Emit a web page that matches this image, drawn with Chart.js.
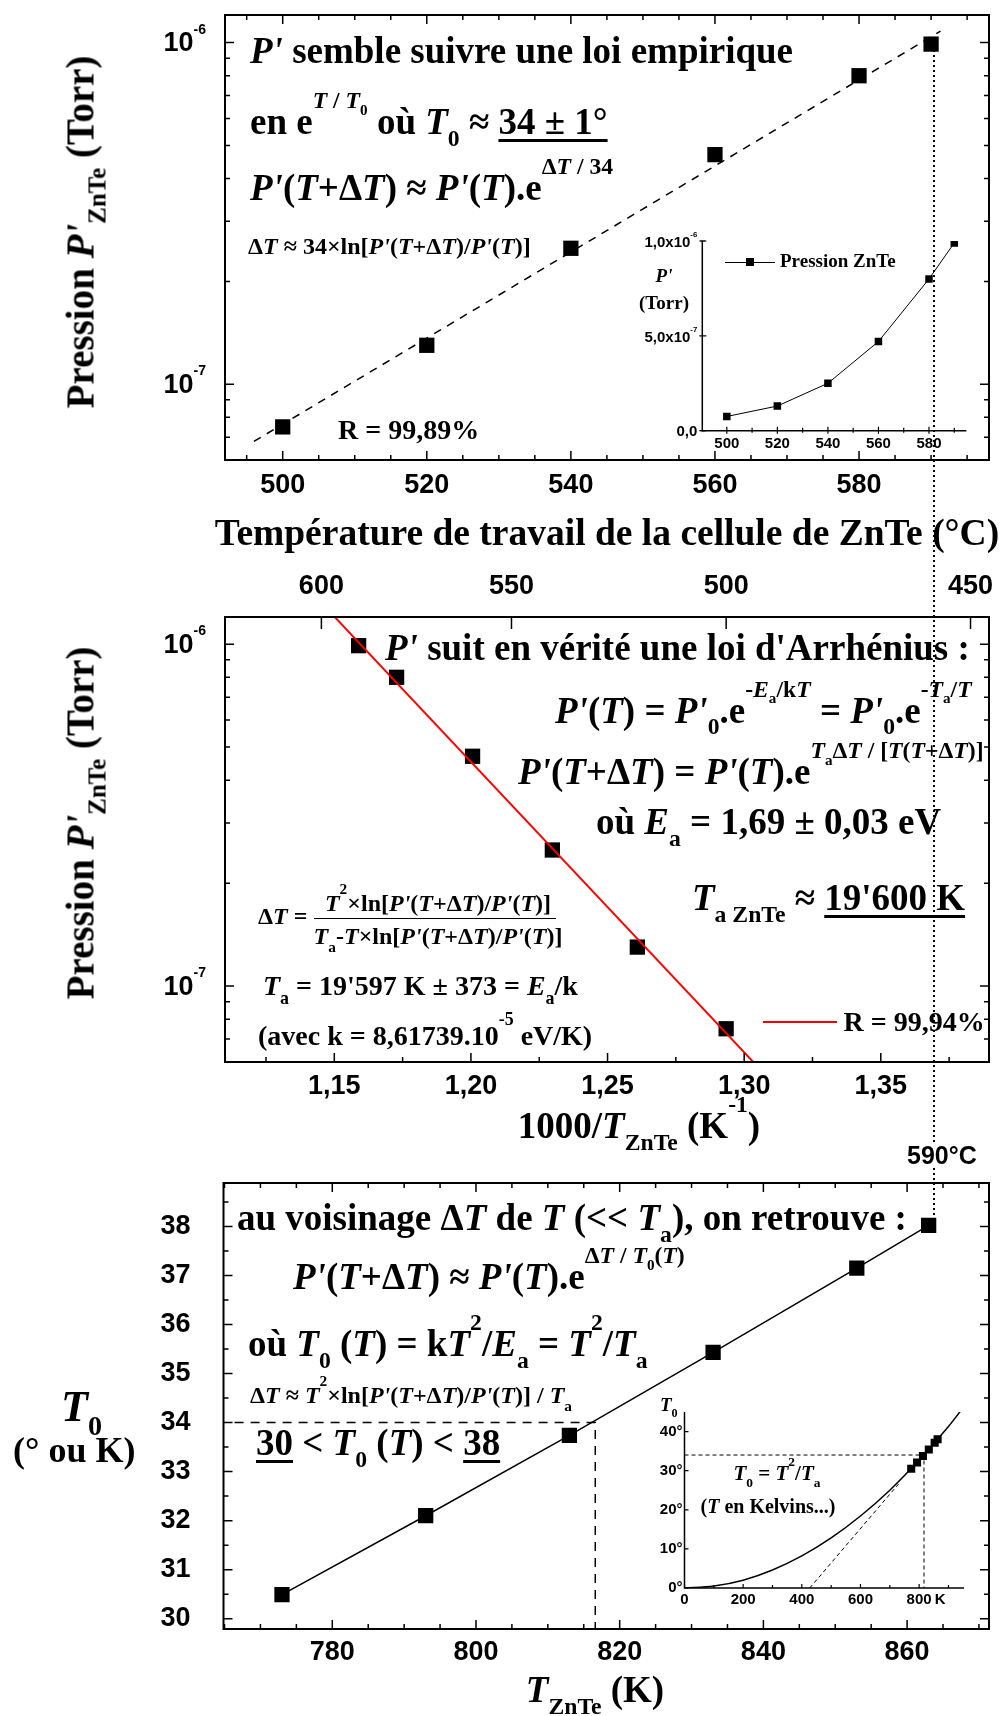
<!DOCTYPE html>
<html><head><meta charset="utf-8">
<script src="https://cdn.jsdelivr.net/npm/chart.js@4.4.1/dist/chart.umd.min.js"></script>
<style>
html,body{margin:0;padding:0;background:#fff;}
#page{position:relative;width:1008px;height:1716px;overflow:hidden;background:#fff;}
canvas{position:absolute;}
.lab{position:absolute;white-space:nowrap;line-height:1;font-family:'Liberation Serif','Times New Roman',serif;font-weight:bold;color:#000;z-index:5;}
.lab i{font-style:italic;}
.lab sup{font-size:0.64em;position:relative;top:-1.1em;vertical-align:baseline;line-height:0;}
.lab sub{font-size:0.64em;position:relative;top:0.5em;vertical-align:baseline;line-height:0;}
.lab sup sub{top:0.45em;}
.lab u{text-decoration:underline;text-decoration-thickness:3px;text-underline-offset:5px;}
.lab.sans{font-family:'Liberation Sans',Arial,sans-serif;}
.lab.sans sup{font-size:0.52em;top:-1.25em;}
.rule{position:absolute;z-index:4;}
</style></head>
<body><div id="page"></div>
<script>
// ---------------- data ----------------
const TEMP_C = [500, 520, 540, 560, 580, 590];
const PRESSURE_TORR = [7.5e-8, 1.30e-7, 2.5e-7, 4.7e-7, 8.0e-7, 9.9e-7];
const INV_T = [1.2934, 1.2609, 1.2298, 1.2006, 1.1728, 1.1589];
const TEMP_K = [773, 793, 813, 833, 853, 863];
const T0_VALUES = [30.49, 32.10, 33.74, 35.43, 37.15, 38.02];
const EMPIRIC_FIT_C = [496, 591.3];
const EMPIRIC_FIT_P = [6.8e-8, 1.08e-6];
const ARRHENIUS_FIT_X = [1.1502, 1.3033];
const ARRHENIUS_FIT_P = [1.20e-6, 6.0e-8];
const CURVE_T = [0, 100, 200, 300, 400, 500, 600, 700, 800, 900, 940];
const CURVE_T0 = [0, 0.5, 2.0, 4.6, 8.2, 12.8, 18.4, 25.0, 32.7, 41.3, 45.1];
const TANGENT_T = [427, 730];
const TANGENT_T0 = [0, 26.6];
const GUIDE_T0 = 34;
const GUIDE_T = 816.6;
const MARK_C = 590.4;
// tick labels
const TOP_X_TICKS = [500, 520, 540, 560, 580];
const LOG_Y_TICKS = [1e-7, 1e-6];
const LOG_Y_LABELS = ['10<sup>-7</sup>', '10<sup>-6</sup>'];
const MID_X_TICKS = [1.15, 1.20, 1.25, 1.30, 1.35];
const MID_TOP_C = [600, 550, 500, 450];
const BOT_X_TICKS = [780, 800, 820, 840, 860];
const BOT_Y_TICKS = [30, 31, 32, 33, 34, 35, 36, 37, 38];
const INSET1_X_TICKS = [500, 520, 540, 560, 580];
const INSET1_Y_TICKS = [0, 5e-7, 1e-6];
const INSET1_Y_LABELS = ['0,0', '5,0x10<sup>-7</sup>', '1,0x10<sup>-6</sup>'];
const INSET2_X_TICKS = [0, 200, 400, 600, 800, 872];
const INSET2_X_LABELS = ['0', '200', '400', '600', '800', 'K'];
const INSET2_Y_TICKS = [0, 10, 20, 30, 40];

// ---------------- helpers ----------------
const page = document.getElementById('page');
Chart.defaults.font.family = "'Liberation Sans', Arial, sans-serif";
Chart.defaults.font.weight = 'bold';
Chart.defaults.color = '#000';

function makeCanvas(left,top,w,h){const c=document.createElement('canvas');c.width=w;c.height=h;c.style.left=left+'px';c.style.top=top+'px';c.style.width=w+'px';c.style.height=h+'px';page.appendChild(c);return c;}
function fixW(w){return s=>{s.width=w;s.paddingTop=0;s.paddingBottom=0;};}
function fixH(h){return s=>{s.height=h;s.paddingLeft=0;s.paddingRight=0;};}
function setTicks(vals){return s=>{s.ticks=vals.map(v=>({value:v}));};}
function steps(a,b,st){const o=[];for(let i=0;a+i*st<=b+1e-9;i++)o.push(+(a+i*st).toFixed(6));return o;}
function logMinor(min,max){const o=[];for(let e=Math.floor(Math.log10(min));e<=Math.ceil(Math.log10(max));e++)for(let k=2;k<=9;k++){const v=k*Math.pow(10,e);if(v>min&&v<max)o.push(v);}return o;}
function pts(xs,ys){return xs.map((x,i)=>({x:x,y:ys[i]}));}

function frameTicks(cfg){
  return {id:'frameTicks',afterDraw(chart){
    const ctx=chart.ctx,a=chart.chartArea;
    ctx.save();ctx.strokeStyle='#000';ctx.lineWidth=cfg.frame;
    ctx.beginPath();
    if(cfg.box){ctx.rect(a.left,a.top,a.right-a.left,a.bottom-a.top);}
    else{ctx.moveTo(a.left,a.top);ctx.lineTo(a.left,a.bottom);ctx.lineTo(a.right,a.bottom);}
    ctx.stroke();
    ctx.lineWidth=cfg.tick;
    for(const t of cfg.ticks){
      const s=chart.scales[t.scale];ctx.beginPath();
      for(const v of t.values){
        if(v<s.min||v>s.max)continue;
        const p=s.getPixelForValue(v);const o=t.out||0;
        if(s.isHorizontal()){
          if(t.bottom){ctx.moveTo(p,a.bottom+o);ctx.lineTo(p,a.bottom-t.len);}
          if(t.top){ctx.moveTo(p,a.top-o);ctx.lineTo(p,a.top+t.len);}
        }else{
          if(t.left){ctx.moveTo(a.left-o,p);ctx.lineTo(a.left+t.len,p);}
          if(t.right){ctx.moveTo(a.right+o,p);ctx.lineTo(a.right-t.len,p);}
        }
      }
      ctx.stroke();
    }
    ctx.restore();
  }};
}
const baseOpts={responsive:false,devicePixelRatio:1,animation:false,events:[],plugins:{legend:{display:false},tooltip:{enabled:false}}};
const noGrid={display:false,drawTicks:false};
const F27={size:27,weight:'bold'};
const F15={size:15,weight:'bold'};

// ---------------- panel 1: empirical law ----------------
const c1=makeCanvas(0,0,1008,560);
const chart1=new Chart(c1,{type:'scatter',
  data:{datasets:[
    {data:pts(EMPIRIC_FIT_C,EMPIRIC_FIT_P),showLine:true,borderColor:'#000',borderWidth:1.5,borderDash:[8,7],pointRadius:0},
    {data:pts(TEMP_C,PRESSURE_TORR),showLine:false,pointStyle:'rect',pointRadius:10.8,pointBackgroundColor:'#000',pointBorderWidth:0}
  ]},
  options:Object.assign({},baseOpts,{layout:{padding:{left:0,top:15,right:19,bottom:0}},
    scales:{
      x:{type:'linear',min:491.99,max:598.04,grid:noGrid,border:{display:false},afterBuildTicks:setTicks(TOP_X_TICKS),afterFit:fixH(100),
         ticks:{font:F27,padding:9.5,autoSkip:false,maxRotation:0,callback:v=>String(v)}},
      y:{type:'logarithmic',min:6.07e-8,max:1.2046e-6,grid:noGrid,border:{display:false},afterBuildTicks:setTicks(LOG_Y_TICKS),afterFit:fixW(225),
         ticks:{display:false}}
    }}),
  plugins:[frameTicks({box:true,frame:2,tick:1.5,ticks:[
    {scale:'x',values:TOP_X_TICKS,len:9,bottom:true,top:true},
    {scale:'x',values:steps(495,595,5).filter(v=>TOP_X_TICKS.indexOf(v)<0),len:5,bottom:true,top:true},
    {scale:'y',values:LOG_Y_TICKS,len:9,left:true,right:true},
    {scale:'y',values:logMinor(6.07e-8,1.2046e-6),len:5,left:true,right:true}]})]
});

// inset of panel 1 (linear pressure)
const c1i=makeCanvas(600,225,390,235);
const chart1i=new Chart(c1i,{type:'scatter',
  data:{datasets:[
    {data:pts(TEMP_C,PRESSURE_TORR),showLine:true,borderColor:'#000',borderWidth:1,pointStyle:'rect',pointRadius:5.3,pointBackgroundColor:'#000',pointBorderWidth:0}
  ]},
  options:Object.assign({},baseOpts,{layout:{padding:{left:0,top:16,right:23.6,bottom:0}},
    scales:{
      x:{type:'linear',min:490.3,max:594.8,grid:noGrid,border:{display:false},afterBuildTicks:setTicks(INSET1_X_TICKS),afterFit:fixH(29.3),
         ticks:{font:F15,padding:4,autoSkip:false,maxRotation:0,callback:v=>String(v)}},
      y:{type:'linear',min:0,max:1e-6,grid:noGrid,border:{display:false},afterBuildTicks:setTicks(INSET1_Y_TICKS),afterFit:fixW(102.3),
         ticks:{display:false}}
    }}),
  plugins:[frameTicks({box:false,frame:1.5,tick:1.2,ticks:[
    {scale:'x',values:INSET1_X_TICKS,len:4,out:3,bottom:true},
    {scale:'x',values:steps(510,590,20),len:3,out:2,bottom:true},
    {scale:'y',values:INSET1_Y_TICKS,len:4,out:3,left:true},
    {scale:'y',values:steps(1e-7,9e-7,1e-7).filter(v=>Math.abs(v-5e-7)>1e-12),len:3,out:2,left:true}]})]
});

// ---------------- panel 2: Arrhenius ----------------
const c2=makeCanvas(0,560,1008,600);
const chart2=new Chart(c2,{type:'scatter',
  data:{datasets:[
    {data:pts(ARRHENIUS_FIT_X,ARRHENIUS_FIT_P),showLine:true,borderColor:'#ff0000',borderWidth:2,pointRadius:0},
    {data:pts(INV_T,PRESSURE_TORR),showLine:false,pointStyle:'rect',pointRadius:10.8,pointBackgroundColor:'#000',pointBorderWidth:0}
  ]},
  options:Object.assign({},baseOpts,{layout:{padding:{left:0,top:0,right:19,bottom:0}},
    scales:{
      x:{type:'linear',position:'bottom',min:1.11,max:1.3896,grid:noGrid,border:{display:false},afterBuildTicks:setTicks(MID_X_TICKS),afterFit:fixH(98),
         ticks:{font:F27,padding:8,autoSkip:false,maxRotation:0,callback:v=>v.toFixed(2).replace('.',',')}},
      x2:{type:'linear',position:'top',min:1.11,max:1.3896,grid:noGrid,border:{display:false},afterBuildTicks:setTicks(MID_TOP_C.map(c=>1000/(c+273.15))),afterFit:fixH(57),
         ticks:{font:F27,padding:14.5,autoSkip:false,maxRotation:0,callback:(v,i)=>String(MID_TOP_C[i])}},
      y:{type:'logarithmic',min:5.995e-8,max:1.2009e-6,grid:noGrid,border:{display:false},afterBuildTicks:setTicks(LOG_Y_TICKS),afterFit:fixW(225),
         ticks:{display:false}}
    }}),
  plugins:[frameTicks({box:true,frame:2,tick:1.5,ticks:[
    {scale:'x',values:MID_X_TICKS,len:9,bottom:true},
    {scale:'x',values:steps(1.125,1.375,0.05),len:5,bottom:true},
    {scale:'x2',values:MID_TOP_C.map(c=>1000/(c+273.15)),len:12,top:true},
    {scale:'y',values:LOG_Y_TICKS,len:9,left:true,right:true},
    {scale:'y',values:logMinor(5.995e-8,1.2009e-6),len:5,left:true,right:true}]})]
});

// ---------------- panel 3: T0(T) ----------------
const c3=makeCanvas(0,1160,1008,556);
const chart3=new Chart(c3,{type:'scatter',
  data:{datasets:[
    {data:pts(TEMP_K,T0_VALUES),showLine:true,borderColor:'#000',borderWidth:1.5,pointStyle:'rect',pointRadius:10.8,pointBackgroundColor:'#000',pointBorderWidth:0},
    {data:[{x:766.4,y:GUIDE_T0},{x:GUIDE_T,y:GUIDE_T0},{x:GUIDE_T,y:29.79}],showLine:true,borderColor:'#000',borderWidth:1.5,borderDash:[9,7],pointRadius:0}
  ]},
  options:Object.assign({},baseOpts,{layout:{padding:{left:0,top:23,right:19,bottom:0}},
    scales:{
      x:{type:'linear',min:764.86,max:871.4,grid:noGrid,border:{display:false},afterBuildTicks:setTicks(BOT_X_TICKS),afterFit:fixH(87),
         ticks:{font:F27,padding:7,autoSkip:false,maxRotation:0,callback:v=>String(v)}},
      y:{type:'linear',min:29.79,max:38.886,grid:noGrid,border:{display:false},afterBuildTicks:setTicks(BOT_Y_TICKS),afterFit:fixW(223.5),
         ticks:{font:F27,padding:33,autoSkip:false,callback:v=>String(v)}}
    }}),
  plugins:[frameTicks({box:true,frame:2,tick:1.5,ticks:[
    {scale:'x',values:BOT_X_TICKS,len:9,bottom:true,top:true},
    {scale:'x',values:steps(765,870,5).filter(v=>BOT_X_TICKS.indexOf(v)<0),len:5,bottom:true,top:true},
    {scale:'y',values:BOT_Y_TICKS,len:9,left:true,right:true},
    {scale:'y',values:steps(30.5,38.5,1),len:5,left:true,right:true}]})]
});

// inset of panel 3 (T0 = T^2/Ta)
const c3i=makeCanvas(620,1395,370,225);
const chart3i=new Chart(c3i,{type:'scatter',
  data:{datasets:[
    {data:pts(TEMP_K,T0_VALUES),showLine:false,pointStyle:'rect',pointRadius:5.7,pointBackgroundColor:'#000',pointBorderWidth:0},
    {data:pts(CURVE_T,CURVE_T0),showLine:true,borderColor:'#000',borderWidth:1.5,pointRadius:0,cubicInterpolationMode:'monotone'},
    {data:pts(TANGENT_T,TANGENT_T0),showLine:true,borderColor:'#000',borderWidth:1,borderDash:[4,3],pointRadius:0},
    {data:[{x:0,y:GUIDE_T0},{x:GUIDE_T,y:GUIDE_T0},{x:GUIDE_T,y:0}],showLine:true,borderColor:'#000',borderWidth:1,borderDash:[4,3],pointRadius:0}
  ]},
  options:Object.assign({},baseOpts,{layout:{padding:{left:0,top:17,right:26,bottom:0}},
    scales:{
      x:{type:'linear',min:0,max:953,grid:noGrid,border:{display:false},afterBuildTicks:setTicks(INSET2_X_TICKS),afterFit:fixH(32),
         ticks:{font:F15,padding:3,autoSkip:false,maxRotation:0,callback:(v,i)=>INSET2_X_LABELS[i]}},
      y:{type:'linear',min:0,max:45,grid:noGrid,border:{display:false},afterBuildTicks:setTicks(INSET2_Y_TICKS),afterFit:fixW(64.5),
         ticks:{font:F15,padding:2,autoSkip:false,callback:v=>v+'\u00B0'}}
    }}),
  plugins:[frameTicks({box:false,frame:1.5,tick:1.2,ticks:[
    {scale:'x',values:[0,200,400,600,800],len:4,bottom:true},
    {scale:'x',values:[100,300,500,700,900],len:3,bottom:true},
    {scale:'y',values:INSET2_Y_TICKS,len:4,left:true}]})]
});

// ---------------- text overlays ----------------
function lab(x,base,size,html,opt){
  opt=opt||{};
  const d=document.createElement('div');
  d.className='lab'+(opt.sans?' sans':'');
  d.style.fontSize=size+'px';
  d.innerHTML=html;
  const asc=opt.sans?0.8465:0.8375;
  d.style.left=x+'px';
  d.style.top=(base-asc*size)+'px';
  if(opt.center)d.style.transform='translateX(-50%)';
  if(opt.right)d.style.transform='translateX(-100%)';
  page.appendChild(d);return d;
}
function vlab(cx,cy,size,html){
  const d=document.createElement('div');
  d.className='lab';d.style.fontSize=size+'px';d.innerHTML=html;
  d.style.left=cx+'px';d.style.top=cy+'px';
  d.style.transform='translate(-50%,-50%) rotate(-90deg)';
  page.appendChild(d);return d;
}
function rule(x,y,w,h,bg){const d=document.createElement('div');d.className='rule';d.style.left=x+'px';d.style.top=y+'px';d.style.width=w+'px';d.style.height=h+'px';d.style.background=bg;page.appendChild(d);return d;}
// y tick labels with true superscripts, placed through the chart scales
function yTickLabels(chart,offX,offY,vals,labels,gap,size){
  const s=chart.scales.y,a=chart.chartArea;
  vals.forEach((v,i)=>{
    const y=offY+s.getPixelForValue(v);
    lab(offX+a.left-gap,y+0.358*size,size,labels[i],{sans:true,right:true});
  });
}
yTickLabels(chart1,0,0,LOG_Y_TICKS,LOG_Y_LABELS,19,27);
yTickLabels(chart2,0,560,LOG_Y_TICKS,LOG_Y_LABELS,19,27);
yTickLabels(chart1i,600,225,INSET1_Y_TICKS,INSET1_Y_LABELS,5,15);

const P='<i>P\'</i>';
const Ti='<i>T</i>';
// panel 1
lab(250,63,37,P+' semble suivre une loi empirique');
lab(250,134,37,'en e<sup>'+Ti+' / '+Ti+'<sub>0</sub></sup> où '+Ti+'<sub>0</sub> ≈ <u>34 ± 1°</u>');
lab(250,200,37,P+'('+Ti+'+Δ'+Ti+') ≈ '+P+'('+Ti+').e<sup>Δ'+Ti+' / 34</sup>');
lab(248,254,24,'Δ'+Ti+' ≈ 34×ln['+P+'('+Ti+'+Δ'+Ti+')/'+P+'('+Ti+')]');
lab(338,439,28,'R = 99,89%');
lab(607,545,37.5,'Température de travail de la cellule de ZnTe (°C)',{center:true});
vlab(80,232,39,'Pression '+P+'<sub>ZnTe</sub> (Torr)');
// inset 1 legend and axis title
rule(725,261.5,50,1.2,'#000');
rule(746.3,258.2,7.5,7.5,'#000');
lab(780,267,19,'Pression ZnTe');
lab(664,282,19,P,{center:true});
lab(664,309,19,'(Torr)',{center:true});

// panel 2
lab(385,660,37,P+' suit en vérité une loi d\'Arrhénius :');
lab(555,722.6,37,P+'('+Ti+') = '+P+'<sub>0</sub>.e<sup>-<i>E</i><sub>a</sub>/k'+Ti+'</sup> = '+P+'<sub>0</sub>.e<sup>-'+Ti+'<sub>a</sub>/'+Ti+'</sup>');
lab(518,784,37,P+'('+Ti+'+Δ'+Ti+') = '+P+'('+Ti+').e<sup>'+Ti+'<sub>a</sub>Δ'+Ti+' / ['+Ti+'('+Ti+'+Δ'+Ti+')]</sup>');
lab(596,834,37,'où <i>E</i><sub>a</sub> = 1,69 ± 0,03 eV');
lab(692,910,37,Ti+'<sub>a ZnTe</sub> ≈ <u>19\'600 K</u>');
lab(258,924,24,'Δ'+Ti+' =');
lab(438,911,24,Ti+'<sup>2</sup>×ln['+P+'('+Ti+'+Δ'+Ti+')/'+P+'('+Ti+')]',{center:true});
rule(314,917.5,242,1.5,'#000');
lab(438,944,24,Ti+'<sub>a</sub>-'+Ti+'×ln['+P+'('+Ti+'+Δ'+Ti+')/'+P+'('+Ti+')]',{center:true});
lab(263,995,28,Ti+'<sub>a</sub> = 19\'597 K ± 373 = <i>E</i><sub>a</sub>/k');
lab(258,1045,28,'(avec k = 8,61739.10<sup>-5</sup> eV/K)');
rule(763,1021,74,2,'#ff0000');
lab(843.5,1031,28,'R = 99,94%');
lab(639,1138,37,'1000/'+Ti+'<sub>ZnTe</sub> (K<sup>-1</sup>)',{center:true});
vlab(80,823,39,'Pression '+P+'<sub>ZnTe</sub> (Torr)');
lab(907,1164,25,'590°C',{sans:true});

// panel 3
lab(237,1230,37,'au voisinage Δ'+Ti+' de '+Ti+' (&lt;&lt; '+Ti+'<sub>a</sub>), on retrouve :');
lab(293,1289,37,P+'('+Ti+'+Δ'+Ti+') ≈ '+P+'('+Ti+').e<sup>Δ'+Ti+' / '+Ti+'<sub>0</sub>('+Ti+')</sup>');
lab(248,1356,37,'où '+Ti+'<sub>0</sub> ('+Ti+') = k'+Ti+'<sup>2</sup>/<i>E</i><sub>a</sub> = '+Ti+'<sup>2</sup>/'+Ti+'<sub>a</sub>');
lab(250,1403,24,'Δ'+Ti+' ≈ '+Ti+'<sup>2</sup>×ln['+P+'('+Ti+'+Δ'+Ti+')/'+P+'('+Ti+')] / '+Ti+'<sub>a</sub>');
lab(256,1455,37,'<u>30</u> &lt; '+Ti+'<sub>0</sub> ('+Ti+') &lt; <u>38</u>');
lab(61,1422,44,Ti+'<sub>0</sub>');
lab(13,1462,36,'(° ou K)');
lab(595,1702,37,Ti+'<sub>ZnTe</sub> (K)',{center:true});
// inset 3 texts
lab(660,1411,19,Ti+'<sub>0</sub>');
lab(777,1481,21,Ti+'<sub>0</sub> = '+Ti+'<sup>2</sup>/'+Ti+'<sub>a</sub>',{center:true});
lab(768,1513,20,'('+Ti+' en Kelvins...)',{center:true});

// dotted guide at 590 °C through the three panels
(function(){
  const x=chart1.scales.x.getPixelForValue(MARK_C);
  const y0=chart1.scales.y.getPixelForValue(PRESSURE_TORR[5])+6;
  const y3=1160+chart3.scales.y.getPixelForValue(T0_VALUES[5])-8;
  const dots='repeating-linear-gradient(to bottom,#000 0px,#000 2px,transparent 2px,transparent 5px)';
  rule(x-0.75,y0,1.5,1145-y0,dots);
  rule(x-0.75,1168,1.5,y3-1168,dots);
})();
</script>
</body></html>
